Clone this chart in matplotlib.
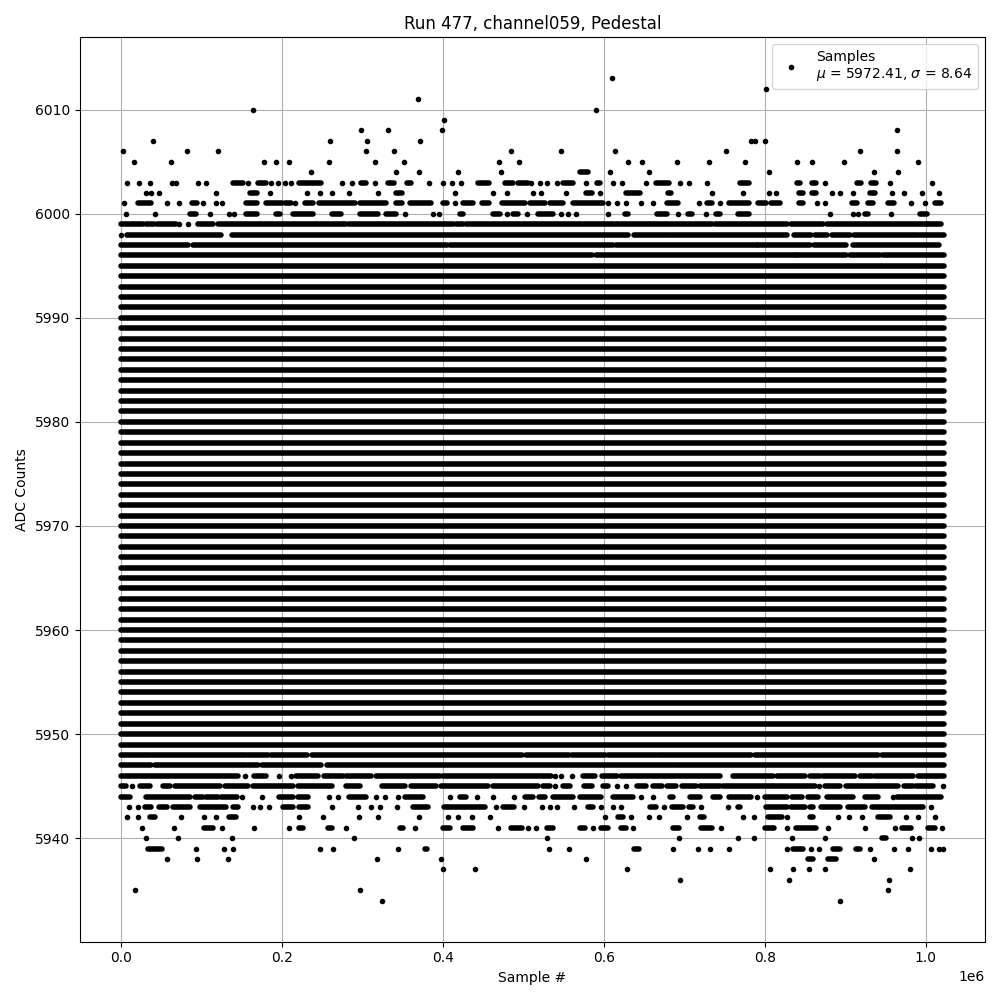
import numpy as np
import matplotlib
matplotlib.use("Agg")
import matplotlib.pyplot as plt

# Run info (title / legend)
run_number = 477
channel = "channel059"
mu, sigma = 5972.41, 8.64
n_samples = 1022400  # last sample index (~1.022e6)

# ADC levels hit all along the run -> solid rows
full_levels = np.arange(5949, 5996)

# Partially filled levels: stretches of consecutive hits (sample index, in thousands)
row_runs = {
    6004: [(571, 580)],
    6003: [(139, 152), (171, 181), (221, 249), (298, 305), (332, 340), (355, 361), (444, 458),
           (477, 487), (494, 506), (549, 562), (592, 595), (665, 681), (769, 781), (840, 844),
           (859, 864), (914, 920), (932, 938)],
    6002: [(160, 169), (342, 349), (578, 585), (628, 645), (680, 683), (843, 848), (859, 863),
           (931, 937)],
    6001: [(21, 38), (89, 95), (156, 169), (181, 200), (204, 212), (229, 239), (246, 291),
           (297, 330), (342, 349), (359, 386), (400, 405), (425, 438), (449, 458), (474, 502),
           (508, 527), (533, 549), (562, 599), (679, 692), (728, 734), (756, 781), (792, 802),
           (808, 819), (843, 848), (908, 914), (928, 935), (953, 961), (1012, 1019)],
    6000: [(86, 94), (156, 169), (193, 198), (214, 239), (262, 274), (297, 320), (330, 342),
           (421, 425), (462, 471), (487, 494), (518, 537), (626, 630), (666, 679), (705, 709),
           (740, 744), (767, 781), (924, 928), (993, 1002)],
    5999: [(0, 9), (12, 28), (31, 41), (45, 69), (96, 115), (121, 280), (284, 413), (416, 425),
           (429, 619), (621, 686), (688, 735), (738, 827), (833, 872), (877, 1001), (1003, 1019)],
    5998: [(8, 125), (138, 514), (517, 630), (638, 681), (684, 827), (836, 858), (862, 877),
           (884, 906), (911, 990), (993, 1022)],
    5997: [(0, 84), (90, 405), (409, 612), (615, 790), (792, 856), (861, 901), (909, 922),
           (924, 1017)],
    5996: [(0, 586), (590, 837), (839, 901), (906, 943), (947, 1022)],
    5948: [(0, 36), (39, 156), (158, 183), (187, 232), (238, 316), (318, 499), (503, 557),
           (560, 601), (605, 665), (667, 783), (788, 941), (946, 1022)],
    5947: [(0, 38), (43, 156), (158, 171), (176, 249), (256, 686), (689, 1022)],
    5946: [(0, 146), (166, 181), (218, 245), (252, 276), (280, 311), (317, 396), (400, 535),
           (574, 589), (598, 616), (622, 744), (761, 810), (815, 850), (856, 868), (872, 912),
           (918, 933), (937, 984), (990, 1022)],
    5945: [(0, 7), (24, 37), (53, 61), (67, 123), (129, 158), (164, 214), (220, 263), (280, 297),
           (324, 353), (360, 392), (398, 456), (462, 518), (525, 533), (549, 558), (576, 585),
           (599, 605), (641, 653), (661, 672), (678, 690), (697, 715), (719, 744), (748, 862),
           (875, 893), (901, 966), (973, 984), (988, 1009)],
    5944: [(1, 11), (32, 86), (92, 102), (106, 121), (125, 144), (197, 214), (220, 233),
           (284, 305), (353, 376), (421, 429), (502, 512), (520, 527), (537, 562), (570, 597),
           (612, 636), (682, 686), (707, 719), (736, 744), (756, 783), (800, 827), (834, 846),
           (854, 866), (877, 910), (924, 941), (964, 1019)],
    5943: [(30, 38), (48, 57), (65, 86), (98, 131), (140, 146), (202, 214), (221, 233),
           (363, 382), (401, 452), (475, 489), (580, 587), (658, 665), (685, 698), (706, 711),
           (767, 769), (802, 827), (833, 850), (856, 860), (870, 893), (903, 924), (933, 997)],
    5942: [(36, 42), (135, 143), (618, 624), (720, 725), (804, 821), (856, 860), (941, 955)],
    5941: [(104, 115), (222, 226), (258, 262), (347, 351), (400, 409), (425, 438), (485, 498),
           (530, 537), (571, 577), (597, 605), (622, 628), (686, 694), (721, 734), (800, 812),
           (839, 864), (970, 982), (1003, 1011)],
    5940: [(945, 951)],
    5939: [(34, 51), (378, 380), (638, 644), (835, 848), (885, 893), (913, 918)],
    5938: [(854, 860), (879, 889)],
}

# Isolated hits (sample index, in thousands)
row_dots = {
    6013: [610],
    6012: [802],
    6011: [369],
    6010: [164, 590],
    6009: [402],
    6008: [298, 332, 399, 964],
    6007: [40, 260, 306, 372, 783, 788, 800],
    6006: [3, 82, 121, 305, 340, 485, 547, 614, 752, 918, 964],
    6005: [17, 62, 178, 193, 209, 259, 316, 352, 470, 495, 630, 648, 691, 731, 776, 840, 859,
           898, 990],
    6004: [237, 342, 371, 419, 472, 608, 656, 805, 936, 966],
    6003: [8, 23, 37, 64, 69, 96, 106, 158, 187, 195, 204, 211, 275, 287, 316, 383, 400, 412,
           423, 510, 521, 530, 542, 578, 611, 623, 653, 695, 706, 728, 875, 955, 1008],
    6002: [31, 38, 48, 118, 186, 231, 248, 262, 283, 320, 415, 462, 480, 512, 522, 553, 595,
           735, 773, 805, 814, 884, 894, 910, 958, 973, 995, 1017],
    6001: [4, 58, 72, 102, 118, 126, 217, 415, 605, 616, 628, 646, 661, 718, 744, 865, 875,
           982, 999],
    6000: [7, 43, 111, 134, 141, 353, 388, 395, 480, 505, 547, 556, 565, 605, 692, 727, 881,
           909, 916, 957],
    5999: [72, 83],
    5998: [1],
    5946: [155, 197, 211, 539, 547, 560],
    5945: [14, 539, 616, 628, 867, 1021],
    5944: [151, 175, 259, 270, 317, 328, 344, 409, 443, 462, 489, 646, 661, 790, 959],
    5943: [10, 21, 164, 173, 184, 262, 295, 311, 322, 343, 466, 501, 523, 533, 542, 563, 597,
           612, 622, 675, 721, 754, 1006],
    5942: [8, 21, 75, 103, 118, 221, 251, 296, 320, 371, 407, 419, 436, 459, 601, 634, 656,
           669, 703, 773, 786, 828, 891, 905, 921, 975, 990, 1012],
    5941: [26, 66, 126, 166, 209, 280, 366, 469, 506, 516, 587, 636, 746, 827, 879, 924, 962,
           1020],
    5940: [32, 71, 138, 290, 529, 694, 767, 786, 834, 875, 983, 992],
    5939: [94, 128, 140, 248, 264, 345, 532, 557, 686, 717, 732, 756, 827, 857, 867, 931, 961,
           978, 1006, 1017, 1021],
    5938: [57, 95, 133, 318, 398, 578, 936],
    5937: [400, 440, 629, 807, 835, 855, 875, 980],
    5936: [695, 830, 954],
    5935: [18, 297, 953],
    5934: [325, 894],
}

row_lw = 4.0  # same thickness as a '.' marker

fig, ax = plt.subplots(figsize=(10, 10))

# solid rows
ax.hlines(full_levels, 0, n_samples, color="k", lw=row_lw, capstyle="round", zorder=2)

# partial rows
run_y, run_x0, run_x1 = [], [], []
for level, runs in row_runs.items():
    for a, b in runs:
        run_y.append(level)
        run_x0.append(a * 1e3)
        run_x1.append(b * 1e3)
ax.hlines(run_y, run_x0, run_x1, color="k", lw=row_lw, capstyle="round", zorder=2)

# isolated samples
dot_x, dot_y = [], []
for level, xs in row_dots.items():
    dot_x.extend(np.array(xs) * 1e3)
    dot_y.extend([level] * len(xs))
ax.plot(dot_x, dot_y, ".", color="k",
        label="Samples\n$\\mu$ = %.2f, $\\sigma$ = %.2f" % (mu, sigma))

ax.set_title("Run %d, %s, Pedestal" % (run_number, channel))
ax.set_xlabel("Sample #")
ax.set_ylabel("ADC Counts")
ax.grid(True)
ax.legend(loc="upper right")

fig.tight_layout()
fig.savefig("out.png", dpi=100)
